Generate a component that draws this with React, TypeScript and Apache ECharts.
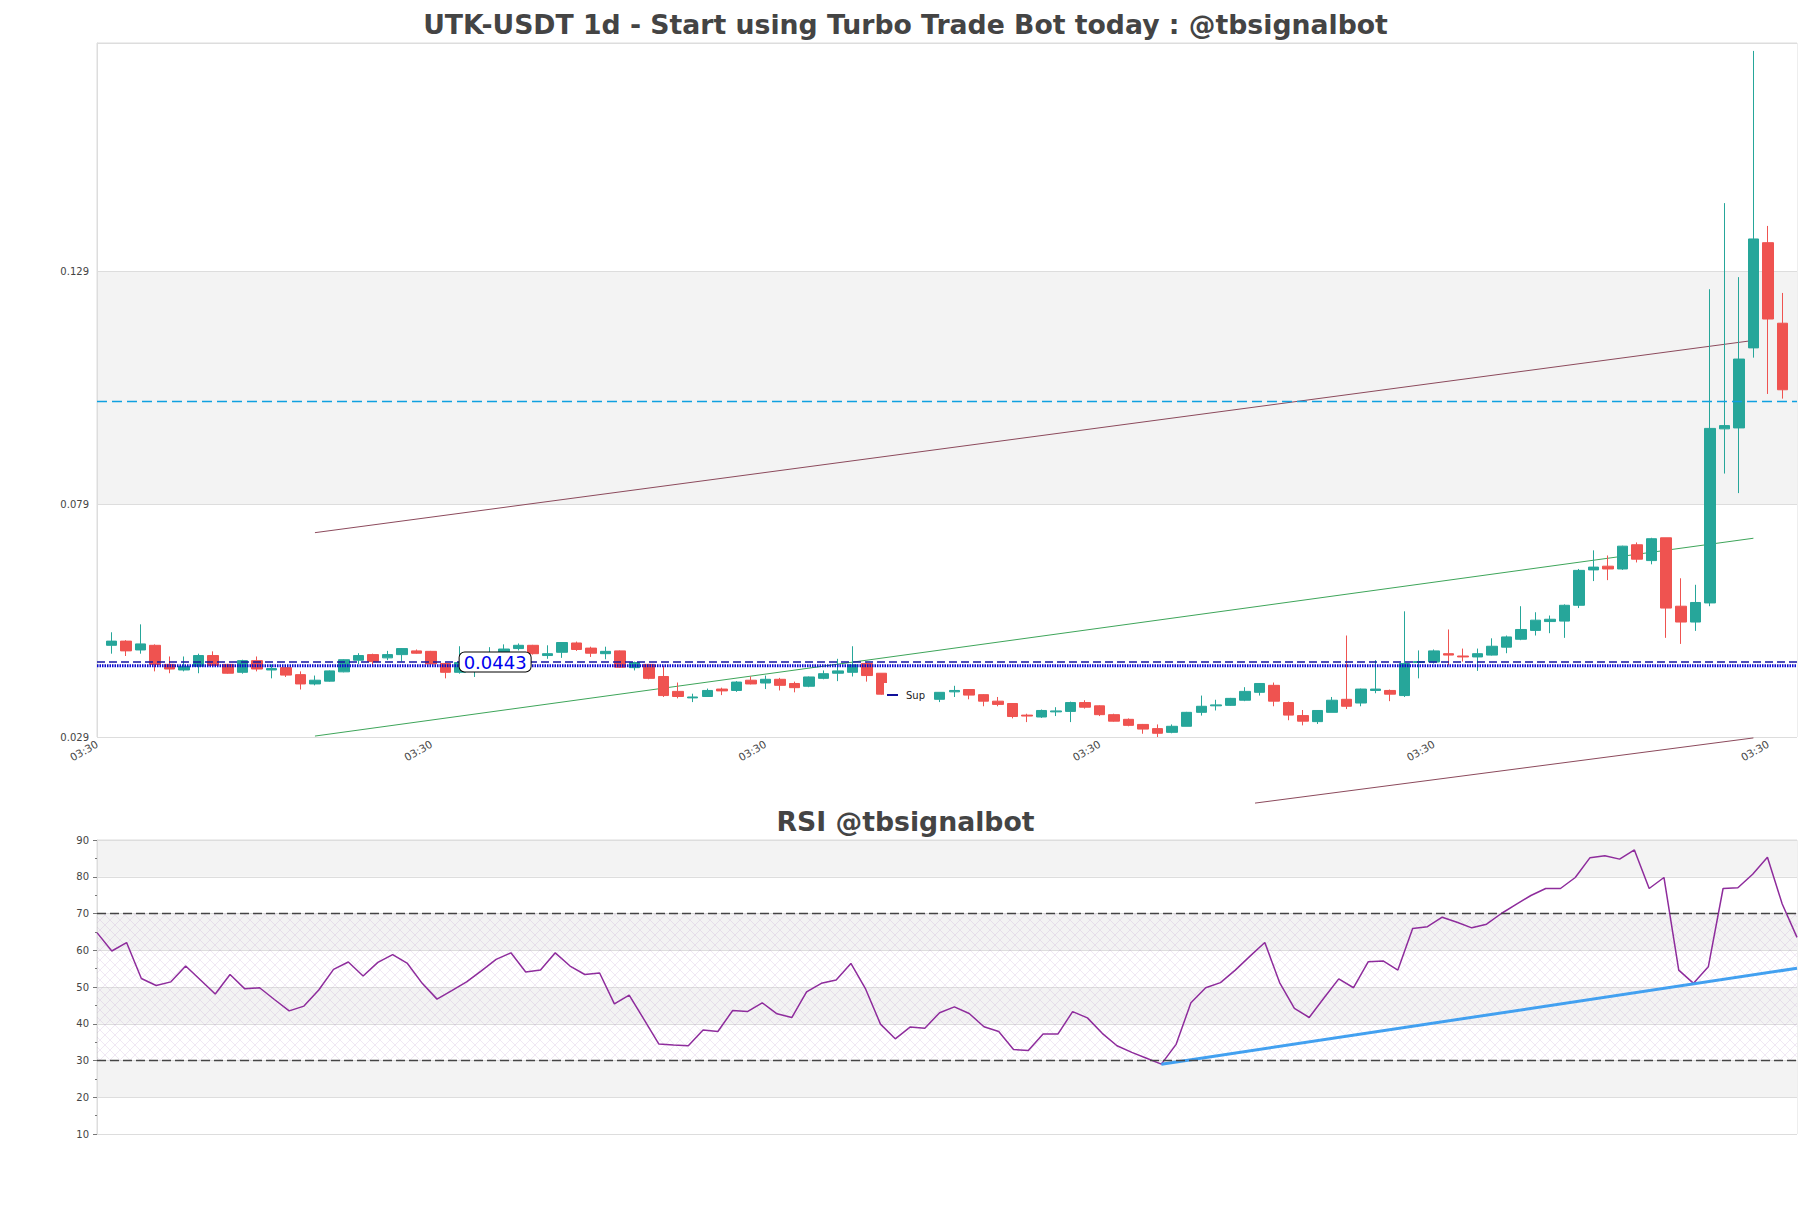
import React, { useEffect, useRef } from 'react';
import * as echarts from 'echarts';

const chartTitle = 'UTK-USDT 1d - Start using Turbo Trade Bot today : @tbsignalbot';
const rsiTitle = 'RSI @tbsignalbot';
const timeLabel = '03:30';

const opens = [
  0.0487, 0.0496, 0.0477, 0.0487, 0.0446, 0.0434, 0.0442, 0.0465, 0.0446, 0.0429,
  0.0454, 0.0434, 0.0439, 0.0424, 0.0404, 0.0410, 0.0430, 0.0455, 0.0467, 0.0460,
  0.0467, 0.0475, 0.0474, 0.0448, 0.0429, 0.0444, 0.0460, 0.0463, 0.0480, 0.0487,
  0.0465, 0.0472, 0.0492, 0.0481, 0.0469, 0.0475, 0.0439, 0.0446, 0.0420, 0.0388,
  0.0374, 0.0377, 0.0393, 0.0390, 0.0412, 0.0406, 0.0414, 0.0405, 0.0399, 0.0416,
  0.0427, 0.0429, 0.0448, 0.0427, 0.0382, 0.0372, 0.0380, 0.0371, 0.0387, 0.0392,
  0.0381, 0.0367, 0.0362, 0.0337, 0.0333, 0.0344, 0.0345, 0.0364, 0.0357, 0.0338,
  0.0328, 0.0317, 0.0308, 0.0300, 0.0313, 0.0343, 0.0357, 0.0358, 0.0369, 0.0386,
  0.0401, 0.0364, 0.0336, 0.0323, 0.0343, 0.0371, 0.0363, 0.0390, 0.0390, 0.0379,
  0.0450, 0.0451, 0.0469, 0.0464, 0.0462, 0.0466, 0.0483, 0.0500, 0.0519, 0.0538,
  0.0539, 0.0573, 0.0649, 0.0657, 0.0651, 0.0703, 0.0669, 0.0718, 0.0571, 0.0537,
  0.0578, 0.0952, 0.0954, 0.1126, 0.1352, 0.1179,
];
const closes = [
  0.0496, 0.0475, 0.0490, 0.0446, 0.0436, 0.0442, 0.0465, 0.0444, 0.0427, 0.0454,
  0.0436, 0.0437, 0.0423, 0.0404, 0.0412, 0.0432, 0.0456, 0.0465, 0.0452, 0.0467,
  0.0480, 0.0470, 0.0447, 0.0429, 0.0450, 0.0461, 0.0466, 0.0479, 0.0487, 0.0469,
  0.0469, 0.0493, 0.0478, 0.0470, 0.0474, 0.0440, 0.0450, 0.0416, 0.0379, 0.0377,
  0.0376, 0.0390, 0.0389, 0.0408, 0.0404, 0.0414, 0.0401, 0.0396, 0.0419, 0.0426,
  0.0432, 0.0445, 0.0422, 0.0382, 0.0372, 0.0380, 0.0378, 0.0386, 0.0390, 0.0380,
  0.0367, 0.0360, 0.0334, 0.0335, 0.0347, 0.0346, 0.0364, 0.0354, 0.0338, 0.0324,
  0.0315, 0.0307, 0.0298, 0.0313, 0.0343, 0.0356, 0.0359, 0.0373, 0.0388, 0.0405,
  0.0367, 0.0337, 0.0324, 0.0347, 0.0369, 0.0356, 0.0393, 0.0393, 0.0382, 0.0448,
  0.0452, 0.0475, 0.0466, 0.0462, 0.0469, 0.0485, 0.0505, 0.0521, 0.0541, 0.0543,
  0.0573, 0.0648, 0.0655, 0.0651, 0.0700, 0.0672, 0.0716, 0.0567, 0.0537, 0.0579,
  0.0953, 0.0959, 0.1102, 0.1360, 0.1188, 0.1036,
];
const lows = [
  0.0469, 0.0464, 0.0469, 0.0431, 0.0427, 0.0431, 0.0427, 0.0440, 0.0426, 0.0426,
  0.0431, 0.0416, 0.0419, 0.0392, 0.0401, 0.0409, 0.0429, 0.0447, 0.0443, 0.0455,
  0.0452, 0.0469, 0.0446, 0.0416, 0.0426, 0.0419, 0.0450, 0.0455, 0.0476, 0.0467,
  0.0458, 0.0460, 0.0475, 0.0462, 0.0457, 0.0439, 0.0433, 0.0414, 0.0376, 0.0373,
  0.0365, 0.0376, 0.0380, 0.0387, 0.0403, 0.0393, 0.0390, 0.0386, 0.0397, 0.0414,
  0.0410, 0.0420, 0.0409, 0.0381, 0.0368, 0.0369, 0.0370, 0.0365, 0.0376, 0.0371,
  0.0356, 0.0356, 0.0330, 0.0322, 0.0331, 0.0335, 0.0322, 0.0351, 0.0335, 0.0323,
  0.0313, 0.0297, 0.0290, 0.0298, 0.0313, 0.0336, 0.0347, 0.0357, 0.0367, 0.0379,
  0.0356, 0.0326, 0.0315, 0.0318, 0.0343, 0.0350, 0.0356, 0.0384, 0.0367, 0.0376,
  0.0416, 0.0448, 0.0444, 0.0452, 0.0432, 0.0465, 0.0470, 0.0498, 0.0508, 0.0513,
  0.0503, 0.0567, 0.0625, 0.0627, 0.0649, 0.0665, 0.0661, 0.0503, 0.0490, 0.0518,
  0.0571, 0.0856, 0.0814, 0.1105, 0.1027, 0.1017,
];
const highs = [
  0.0515, 0.0498, 0.0532, 0.0489, 0.0463, 0.0463, 0.0469, 0.0474, 0.0447, 0.0456,
  0.0463, 0.0446, 0.0440, 0.0431, 0.0422, 0.0433, 0.0457, 0.0470, 0.0469, 0.0475,
  0.0481, 0.0478, 0.0475, 0.0450, 0.0485, 0.0472, 0.0483, 0.0489, 0.0491, 0.0488,
  0.0487, 0.0493, 0.0495, 0.0484, 0.0484, 0.0476, 0.0452, 0.0447, 0.0443, 0.0407,
  0.0383, 0.0394, 0.0396, 0.0410, 0.0420, 0.0422, 0.0417, 0.0409, 0.0420, 0.0433,
  0.0458, 0.0485, 0.0450, 0.0427, 0.0384, 0.0383, 0.0384, 0.0386, 0.0400, 0.0393,
  0.0382, 0.0376, 0.0363, 0.0340, 0.0349, 0.0354, 0.0366, 0.0369, 0.0358, 0.0340,
  0.0330, 0.0318, 0.0317, 0.0317, 0.0344, 0.0379, 0.0370, 0.0374, 0.0397, 0.0406,
  0.0407, 0.0366, 0.0348, 0.0348, 0.0376, 0.0508, 0.0394, 0.0455, 0.0392, 0.0560,
  0.0476, 0.0478, 0.0521, 0.0480, 0.0480, 0.0502, 0.0508, 0.0571, 0.0558, 0.0551,
  0.0575, 0.0651, 0.0691, 0.0680, 0.0701, 0.0708, 0.0718, 0.0718, 0.0631, 0.0617,
  0.1252, 0.1437, 0.1278, 0.1764, 0.1388, 0.1244,
];

const rsiValues = [
  64.8, 59.8, 62.1, 52.3, 50.4, 51.4, 55.7, 51.9, 48.1, 53.4,
  49.5, 49.8, 46.6, 43.5, 44.8, 49.2, 54.8, 56.8, 53.0, 56.7,
  58.8, 56.4, 51.0, 46.7, 49.0, 51.4, 54.4, 57.5, 59.3, 54.1,
  54.6, 59.3, 55.7, 53.4, 53.8, 45.4, 47.8, 41.2, 34.5, 34.2,
  34.0, 38.3, 37.9, 43.6, 43.3, 45.7, 42.7, 41.7, 48.7, 51.0,
  51.9, 56.4, 49.4, 39.9, 35.9, 39.1, 38.8, 43.0, 44.6, 42.8,
  39.2, 37.9, 33.0, 32.7, 37.2, 37.2, 43.3, 41.6, 37.4, 34.0,
  32.2, 30.6, 29.0, 34.4, 45.7, 49.8, 51.2, 54.6, 58.4, 62.1,
  51.2, 44.2, 41.7, 47.0, 52.2, 49.8, 56.9, 57.1, 54.6, 65.9,
  66.4, 69.0, 67.6, 66.1, 67.1, 70.0, 72.5, 74.9, 76.8, 76.8,
  79.8, 85.2, 85.7, 84.8, 87.3, 76.8, 79.8, 54.6, 51.0, 55.5,
  76.8, 77.0, 80.7, 85.3, 72.6, 63.5,
];

const supportLevel = 0.0443;
const dashedLevel = 0.0452;
const cyanLevel = 0.1011;
const upperChannel = [[14, 0.0729], [113, 0.1142]];
const lowerChannel = [[78.7, 0.0148], [113, 0.0288]];
const greenTrend = [[14, 0.0292], [113, 0.0717]];
const rsiTrend = [[72, 29.0], [115, 55.1]];
const rsiOverbought = 70;
const rsiOversold = 30;

const priceMin = 0.029;
const priceMax = 0.1781;
const priceStep = 0.05;

export default function App() {
  const ref = useRef<HTMLDivElement>(null);
  useEffect(() => {
    if (!ref.current) return;
    const chart = echarts.init(ref.current, undefined, { renderer: 'svg' });

    const cv = document.createElement('canvas');
    cv.width = 10;
    cv.height = 10;
    const ctx = cv.getContext('2d');
    if (ctx) {
      ctx.strokeStyle = 'rgba(170,125,195,0.26)';
      ctx.lineWidth = 0.7;
      ctx.beginPath();
      ctx.moveTo(0, 0);
      ctx.lineTo(10, 10);
      ctx.moveTo(10, 0);
      ctx.lineTo(0, 10);
      ctx.stroke();
    }
    const hatch: any = { image: cv.toDataURL(), repeat: 'repeat', imageWidth: 10, imageHeight: 10 };

    const dayLabels = opens.map(() => timeLabel);
    const mainCategories = [timeLabel, ...dayLabels, timeLabel];
    const empty = ['-', '-', '-', '-'];
    const candleData = [empty, ...opens.map((o, i) => [o, closes[i], lows[i], highs[i]]), empty];

    const font = 'DejaVu Sans';
    const titleStyle = { fontFamily: font, fontSize: 26.7, fontWeight: 'bold', color: '#444444' };
    const option: any = {
      animation: false,
      backgroundColor: '#ffffff',
      textStyle: { fontFamily: font },
      title: [
        { text: chartTitle, left: 'center', top: 6, textStyle: titleStyle },
        { text: rsiTitle, left: 'center', top: 803, textStyle: titleStyle },
      ],
      legend: {
        data: [{ name: 'Sup', icon: 'rect' }],
        left: 884,
        top: 683,
        itemWidth: 11,
        itemHeight: 2,
        backgroundColor: '#ffffff',
        padding: [7, 8, 7, 3],
        selectedMode: false,
        textStyle: { fontFamily: font, fontSize: 10, color: '#222222', padding: [0, 0, 0, 3] },
      },
      grid: [
        { left: 97, top: 43, width: 1700, height: 694, show: true, borderColor: '#dddddd', borderWidth: 1 },
        { left: 97, top: 840, width: 1700, height: 294, show: true, borderColor: '#dddddd', borderWidth: 1 },
      ],
      xAxis: [
        {
          type: 'category', gridIndex: 0, data: mainCategories, boundaryGap: false,
          axisLine: { show: false, onZero: false }, axisTick: { show: false },
          axisLabel: { interval: 22, rotate: 30, fontSize: 10.5, color: '#444444', margin: 6, fontFamily: font },
          splitLine: { show: false },
        },
        { type: 'value', gridIndex: 0, min: -1, max: 116, show: false, axisLine: { onZero: false } },
        {
          type: 'category', gridIndex: 1, data: dayLabels, boundaryGap: false,
          axisLine: { show: false, onZero: false }, axisTick: { show: false }, axisLabel: { show: false }, splitLine: { show: false },
        },
      ],
      yAxis: [
        {
          type: 'value', gridIndex: 0, min: priceMin, max: priceMax, interval: priceStep,
          axisLine: { show: true, onZero: false, lineStyle: { color: '#dddddd' } },
          axisTick: { show: false },
          axisLabel: { formatter: (v: number) => v.toFixed(3), fontSize: 10, color: '#444444', showMaxLabel: false, fontFamily: font },
          splitLine: { show: true, lineStyle: { color: '#dddddd' } },
          splitArea: { show: true, areaStyle: { color: ['#ffffff', '#f3f3f3'] } },
        },
        {
          type: 'value', gridIndex: 1, min: 10, max: 90, interval: 10,
          axisLine: { show: true, onZero: false, lineStyle: { color: '#dddddd' } },
          axisTick: { show: true, length: 4, lineStyle: { color: '#777777' } },
          minorTick: { show: true, splitNumber: 2, length: 2, lineStyle: { color: '#777777' } },
          axisLabel: { fontSize: 10, color: '#444444', fontFamily: font },
          splitLine: { show: true, lineStyle: { color: '#dddddd' } },
          splitArea: { show: true, areaStyle: { color: ['#ffffff', '#f3f3f3'] } },
        },
      ],
      series: [
        {
          type: 'line', name: 'upper', xAxisIndex: 1, yAxisIndex: 0, data: upperChannel,
          symbol: 'none', lineStyle: { color: '#8c4a5c', width: 1 }, z: 2, silent: true,
        },
        {
          type: 'line', name: 'lower', xAxisIndex: 1, yAxisIndex: 0, data: lowerChannel, clip: false,
          symbol: 'none', lineStyle: { color: '#8c4a5c', width: 1 }, z: 2, silent: true,
        },
        {
          type: 'line', name: 'trend', xAxisIndex: 1, yAxisIndex: 0, data: greenTrend,
          symbol: 'none', lineStyle: { color: '#3ea55a', width: 1 }, z: 2, silent: true,
        },
        {
          type: 'candlestick', name: 'UTK', xAxisIndex: 0, yAxisIndex: 0, data: candleData, barWidth: 11, z: 3,
          itemStyle: { color: '#26a69a', color0: '#ef5350', borderColor: '#26a69a', borderColor0: '#ef5350', borderWidth: 1 },
          markLine: {
            silent: true, symbol: 'none', precision: 5, label: { show: false },
            data: [
              { yAxis: cyanLevel, lineStyle: { color: '#0fa0e0', type: [10, 5], width: 1.3, opacity: 1 } },
              { yAxis: dashedLevel, lineStyle: { color: '#1515a5', type: [8, 4], width: 1.5, opacity: 1 } },
            ],
          },
        },
        {
          type: 'line', name: 'Sup', xAxisIndex: 1, yAxisIndex: 0, color: '#10109a',
          data: [[-1, supportLevel], [116, supportLevel]],
          symbol: 'none', lineStyle: { color: '#0a0ad0', width: 3, type: [1.5, 1] }, z: 4,
          markPoint: {
            silent: true, symbol: 'rect', symbolSize: 1, itemStyle: { color: 'rgba(0,0,0,0)' },
            label: {
              show: true, position: 'inside', formatter: () => supportLevel.toFixed(4),
              fontSize: 18, color: '#0000ee', fontFamily: font,
              backgroundColor: '#ffffff', borderColor: '#000000', borderWidth: 1, borderRadius: 5, padding: [1, 4, 0, 4],
            },
            data: [{ coord: [26.4, 0.0451] }],
          },
        },
        {
          type: 'line', name: 'RSI', xAxisIndex: 2, yAxisIndex: 1, data: rsiValues,
          symbol: 'none', lineStyle: { color: '#8e2c9c', width: 1.5 }, z: 3,
          markLine: {
            silent: true, symbol: 'none', label: { show: false },
            lineStyle: { color: '#444444', type: [9, 4], width: 1.3 },
            data: [{ yAxis: rsiOverbought }, { yAxis: rsiOversold }],
          },
          markArea: {
            silent: true,
            itemStyle: { color: hatch },
            data: [[{ yAxis: rsiOversold }, { yAxis: rsiOverbought }]],
          },
        },
        {
          type: 'line', name: 'rsiTrend', xAxisIndex: 2, yAxisIndex: 1, data: rsiTrend,
          symbol: 'none', lineStyle: { color: '#42a0f0', width: 3 }, z: 4, silent: true,
        },
      ],
    };
    chart.setOption(option);
    return () => chart.dispose();
  }, []);
  return <div ref={ref} style={{ position: 'absolute', left: 0, top: 0, width: 1811, height: 1208 }} />;
}
